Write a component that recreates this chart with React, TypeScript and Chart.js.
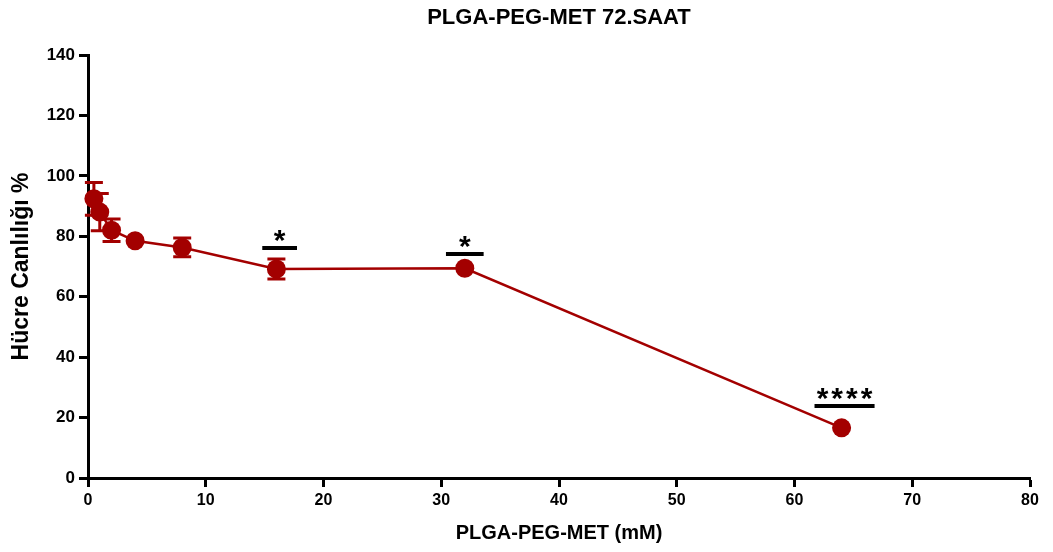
import React, { useEffect, useRef } from "react";
import { Chart, registerables } from "chart.js";

Chart.register(...registerables);

// ---- data ----
const doses = [0.5, 1, 2, 4, 8, 16, 32, 64];
const viability = [92.4, 88.0, 82.0, 78.5, 76.3, 69.2, 69.4, 16.6];
const sem = [5.4, 6.2, 3.7, 0, 3.1, 3.3, 0, 0];

const xTicks = [0, 10, 20, 30, 40, 50, 60, 70, 80];
const yTicks = [0, 20, 40, 60, 80, 100, 120, 140];

// significance annotations
const sigStart = [14.8, 30.4, 61.7];
const sigEnd = [17.75, 33.6, 66.8];
const sigLevel = [76.1, 74.1, 23.8];
const sigLabels = ["*", "*", "****"];

const titleText = "PLGA-PEG-MET 72.SAAT";
const xTitle = "PLGA-PEG-MET (mM)";
const yTitle = "Hücre Canlılığı %";

const RED = "#A30000";
const FONT = "'Liberation Sans', Arial, Helvetica, sans-serif";

const annotationPlugin = {
  id: "errAndSig",
  afterDatasetsDraw(chart: any) {
    const ctx = chart.ctx;
    const xs = chart.scales.x;
    const ys = chart.scales.y;
    ctx.save();
    // error bars
    ctx.strokeStyle = RED;
    ctx.lineWidth = 3;
    doses.forEach((d, i) => {
      const e = sem[i];
      if (!e) return;
      const px = xs.getPixelForValue(d);
      const top = ys.getPixelForValue(viability[i] + e);
      const bot = ys.getPixelForValue(viability[i] - e);
      ctx.beginPath();
      ctx.moveTo(px, top);
      ctx.lineTo(px, bot);
      ctx.moveTo(px - 9, top);
      ctx.lineTo(px + 9, top);
      ctx.moveTo(px - 9, bot);
      ctx.lineTo(px + 9, bot);
      ctx.stroke();
    });
    // significance bars
    ctx.strokeStyle = "#000";
    ctx.fillStyle = "#000";
    ctx.lineWidth = 4;
    const fs = 30;
    ctx.font = `bold ${fs}px ${FONT}`;
    ctx.textAlign = "center";
    ctx.textBaseline = "alphabetic";
    sigLabels.forEach((lab, i) => {
      const x1 = xs.getPixelForValue(sigStart[i]);
      const x2 = xs.getPixelForValue(sigEnd[i]);
      const y = ys.getPixelForValue(sigLevel[i]);
      ctx.beginPath();
      ctx.moveTo(x1, y);
      ctx.lineTo(x2, y);
      ctx.stroke();
      const cy = y - 14;
      try {
        (ctx as any).letterSpacing = lab.length > 1 ? "3px" : "0px";
      } catch (e) {}
      ctx.fillText(lab, (x1 + x2) / 2 + (lab.length > 1 ? 1.5 : 0), cy + 0.53 * fs);
    });
    ctx.restore();
  },
};

export default function App() {
  const ref = useRef<HTMLCanvasElement | null>(null);
  useEffect(() => {
    if (!ref.current) return;
    const chart = new Chart(ref.current, {
      type: "scatter",
      data: {
        datasets: [
          {
            data: doses.map((d, i) => ({ x: d, y: viability[i] })),
            showLine: true,
            borderColor: RED,
            backgroundColor: RED,
            borderWidth: 2.5,
            pointRadius: 9.5,
            pointHoverRadius: 9.5,
            pointBackgroundColor: RED,
            pointBorderColor: RED,
            pointBorderWidth: 0,
            clip: false as any,
          },
        ],
      },
      options: {
        responsive: false,
        animation: false,
        events: [],
        layout: { padding: { left: 0, right: 23, top: 0, bottom: 0 } },
        plugins: {
          legend: { display: false },
          tooltip: { enabled: false },
          title: {
            display: true,
            text: titleText,
            fullSize: false,
            color: "#000",
            font: { family: FONT, size: 22, weight: "bold" },
            padding: { top: 4.3, bottom: 24.3 },
          },
        },
        scales: {
          x: {
            type: "linear",
            min: 0,
            max: 80,
            afterBuildTicks: (s: any) => {
              s.ticks = xTicks.map((v) => ({ value: v }));
            },
            afterFit: (s: any) => {
              s.height = 74;
            },
            ticks: {
              color: "#000",
              font: { family: FONT, size: 16, weight: "bold" },
              padding: 4,
              maxRotation: 0,
            },
            grid: {
              display: true,
              drawOnChartArea: false,
              drawTicks: true,
              tickLength: 9,
              tickWidth: 3,
              tickColor: "#000",
            },
            border: { display: true, color: "#000", width: 3 },
            title: {
              display: true,
              text: xTitle,
              color: "#000",
              font: { family: FONT, size: 20, weight: "bold" },
              padding: { top: 0, bottom: 7 },
            },
          },
          y: {
            type: "linear",
            min: 0,
            max: 140,
            afterBuildTicks: (s: any) => {
              s.ticks = yTicks.map((v) => ({ value: v }));
            },
            afterFit: (s: any) => {
              s.width = 88;
            },
            ticks: {
              color: "#000",
              font: { family: FONT, size: 17, weight: "bold" },
              padding: 4,
            },
            grid: {
              display: true,
              drawOnChartArea: false,
              drawTicks: true,
              tickLength: 9,
              tickWidth: 3,
              tickColor: "#000",
            },
            border: { display: true, color: "#000", width: 3 },
            title: {
              display: true,
              text: yTitle,
              color: "#000",
              font: { family: FONT, size: 23, weight: "bold" },
              padding: { top: 8, bottom: 0 },
            },
          },
        },
      },
      plugins: [annotationPlugin],
    } as any);
    return () => chart.destroy();
  }, []);
  return (
    <div style={{ position: "fixed", left: 0, top: 0, width: 1053, height: 552, background: "#fff" }}>
      <canvas ref={ref} width={1053} height={552} style={{ display: "block" }} />
    </div>
  );
}
